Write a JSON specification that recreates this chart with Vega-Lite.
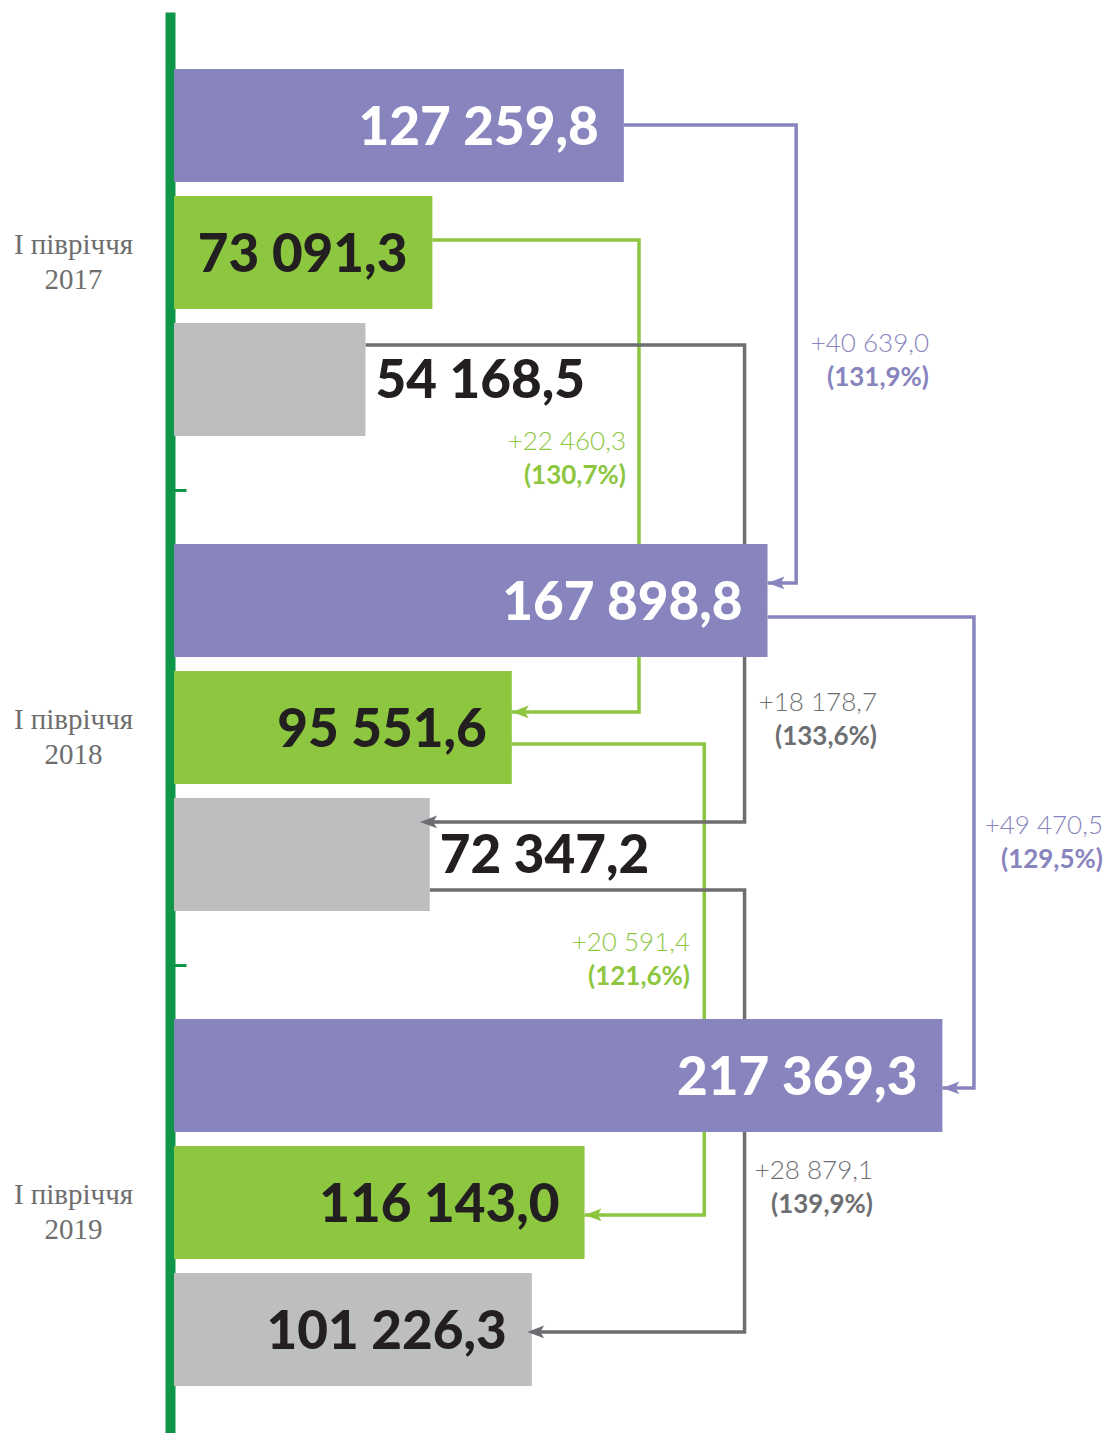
{
  "$schema": "https://vega.github.io/schema/vega-lite/v6.json",
  "width": 935,
  "height": 1421,
  "autosize": {"type": "none"},
  "padding": {"left": 174, "top": 12, "right": 0, "bottom": 0},
  "background": "white",
  "config": {"view": {"stroke": null}},
  "datasets": {
    "bars": [
      {"year": "2017", "series": "total", "value": 127259.8, "label": "127 259,8"},
      {"year": "2017", "series": "part1", "value": 73091.3, "label": "73 091,3"},
      {"year": "2017", "series": "part2", "value": 54168.5, "label": "54 168,5"},
      {"year": "2018", "series": "total", "value": 167898.8, "label": "167 898,8"},
      {"year": "2018", "series": "part1", "value": 95551.6, "label": "95 551,6"},
      {"year": "2018", "series": "part2", "value": 72347.2, "label": "72 347,2"},
      {"year": "2019", "series": "total", "value": 217369.3, "label": "217 369,3"},
      {"year": "2019", "series": "part1", "value": 116143.0, "label": "116 143,0"},
      {"year": "2019", "series": "part2", "value": 101226.3, "label": "101 226,3"}
    ],
    "links": [
      {"link": "t17", "series": "total", "ord": 1, "year": "2017", "v": 127259.8, "off": 56},
      {"link": "t17", "series": "total", "ord": 2, "year": "2017", "v": 176000, "off": 56},
      {"link": "t17", "series": "total", "ord": 3, "year": "2018", "v": 176000, "off": 39},
      {"link": "t17", "series": "total", "ord": 4, "year": "2018", "v": 167898.8, "off": 39},
      {"link": "t18", "series": "total", "ord": 1, "year": "2018", "v": 167898.8, "off": 73},
      {"link": "t18", "series": "total", "ord": 2, "year": "2018", "v": 226300, "off": 73},
      {"link": "t18", "series": "total", "ord": 3, "year": "2019", "v": 226300, "off": 69},
      {"link": "t18", "series": "total", "ord": 4, "year": "2019", "v": 217369.3, "off": 69},
      {"link": "g17", "series": "part1", "ord": 1, "year": "2017", "v": 73091.3, "off": 171},
      {"link": "g17", "series": "part1", "ord": 2, "year": "2017", "v": 131540, "off": 171},
      {"link": "g17", "series": "part1", "ord": 3, "year": "2018", "v": 131540, "off": 168},
      {"link": "g17", "series": "part1", "ord": 4, "year": "2018", "v": 95551.6, "off": 168},
      {"link": "g18", "series": "part1", "ord": 1, "year": "2018", "v": 95551.6, "off": 200},
      {"link": "g18", "series": "part1", "ord": 2, "year": "2018", "v": 150000, "off": 200},
      {"link": "g18", "series": "part1", "ord": 3, "year": "2019", "v": 150000, "off": 196},
      {"link": "g18", "series": "part1", "ord": 4, "year": "2019", "v": 116143.0, "off": 196},
      {"link": "r17", "series": "part2", "ord": 1, "year": "2017", "v": 54168.5, "off": 276},
      {"link": "r17", "series": "part2", "ord": 2, "year": "2017", "v": 161400, "off": 276},
      {"link": "r17", "series": "part2", "ord": 3, "year": "2018", "v": 161400, "off": 278},
      {"link": "r17", "series": "part2", "ord": 4, "year": "2018", "v": 69600, "off": 278},
      {"link": "r18", "series": "part2", "ord": 1, "year": "2018", "v": 72347.2, "off": 346},
      {"link": "r18", "series": "part2", "ord": 2, "year": "2018", "v": 161400, "off": 346},
      {"link": "r18", "series": "part2", "ord": 3, "year": "2019", "v": 161400, "off": 313},
      {"link": "r18", "series": "part2", "ord": 4, "year": "2019", "v": 99900, "off": 313}
    ],
    "changes": [
      {"series": "total", "year": "2017", "v": 213580, "off": 292.5, "delta": "+40 639,0", "pct": "(131,9%)"},
      {"series": "part1", "year": "2017", "v": 127860, "off": 390, "delta": "+22 460,3", "pct": "(130,7%)"},
      {"series": "part2", "year": "2018", "v": 198870, "off": 176, "delta": "+18 178,7", "pct": "(133,6%)"},
      {"series": "total", "year": "2018", "v": 262800, "off": 299, "delta": "+49 470,5", "pct": "(129,5%)"},
      {"series": "part1", "year": "2018", "v": 145970, "off": 416, "delta": "+20 591,4", "pct": "(121,6%)"},
      {"series": "part2", "year": "2019", "v": 197740, "off": 169, "delta": "+28 879,1", "pct": "(139,9%)"}
    ]
  },
  "layer": [
    {
      "data": {"name": "links"},
      "mark": {"type": "line", "strokeWidth": 3.5, "strokeJoin": "miter", "strokeCap": "butt"},
      "encoding": {
        "y": {
          "field": "year", "type": "nominal", "title": null,
          "scale": {"paddingInner": 0.22737, "paddingOuter": 0.10947, "align": 0.548},
          "axis": {
            "orient": "left",
            "offset": 4,
            "domainColor": "#0f9648",
            "domainWidth": 10,
            "domainCap": "butt",
            "bandPosition": -0.147,
            "ticks": true,
            "tickSize": -16,
            "tickWidth": 3,
            "tickColor": {"condition": {"test": "datum.value === '2017'", "value": "transparent"}, "value": "#0f9648"},
            "labelExpr": "['I півріччя', datum.label]",
            "labelAlign": "center",
            "labelBaseline": "middle",
            "labelFont": "Liberation Serif",
            "labelFontSize": 29,
            "labelColor": "#6e6e6e",
            "labelLineHeight": 35,
            "labelPadding": 113,
            "labelOffset": -7,
            "grid": false
          }
        },
        "yOffset": {"field": "off", "type": "quantitative", "scale": {"domain": [0, 500], "range": [0, 500], "zero": false, "nice": false}},
        "x": {"field": "v", "type": "quantitative", "scale": {"domain": [0, 264500], "nice": false, "zero": true}, "axis": null},
        "order": {"field": "ord"},
        "detail": {"field": "link"},
        "stroke": {"field": "series", "type": "nominal", "scale": {"domain": ["total", "part1", "part2"], "range": ["#8884be", "#8dc63f", "#6d6e71"]}, "legend": null}
      }
    },
    {
      "data": {"name": "bars"},
      "mark": {"type": "bar"},
      "encoding": {
        "y": {"field": "year", "type": "nominal"},
        "yOffset": {"field": "series", "type": "nominal", "scale": {"domain": ["total", "part1", "part2"], "paddingInner": 0.11024, "paddingOuter": 0}},
        "x": {"field": "value", "type": "quantitative"},
        "color": {"field": "series", "type": "nominal", "scale": {"domain": ["total", "part1", "part2"], "range": ["#8884be", "#8dc63f", "#bcbec0"]}, "legend": null}
      }
    },
    {
      "data": {"name": "links"},
      "transform": [{"filter": "datum.ord === 4"}],
      "mark": {"type": "point", "shape": "M0,0L2,-0.75L1.55,0L2,0.75Z", "size": 289, "filled": true, "opacity": 1, "strokeWidth": 0},
      "encoding": {
        "y": {"field": "year", "type": "nominal"},
        "yOffset": {"field": "off", "type": "quantitative", "scale": {"domain": [0, 500], "range": [0, 500], "zero": false, "nice": false}},
        "x": {"field": "v", "type": "quantitative"},
        "fill": {"field": "series", "type": "nominal", "scale": {"domain": ["total", "part1", "part2"], "range": ["#8884be", "#8dc63f", "#6d6e71"]}, "legend": null}
      }
    },
    {
      "data": {"name": "bars"},
      "transform": [{"filter": "datum.series !== 'part2' || datum.value >= 90000"}],
      "mark": {"type": "text", "align": "right", "baseline": "middle", "dx": -25, "dy": 4, "font": "Lato", "fontWeight": 900, "fontSize": 53},
      "encoding": {
        "y": {"field": "year", "type": "nominal"},
        "yOffset": {"field": "series", "type": "nominal", "scale": {"type": "point", "domain": ["total", "part1", "part2"], "padding": 0.4449}},
        "x": {"field": "value", "type": "quantitative"},
        "text": {"field": "label"},
        "color": {"condition": {"test": "datum.series === 'total'", "value": "#ffffff"}, "value": "#231f20"}
      }
    },
    {
      "data": {"name": "bars"},
      "transform": [{"filter": "datum.series === 'part2' && datum.value < 90000"}],
      "mark": {"type": "text", "align": "left", "baseline": "middle", "dx": 10, "dy": 3, "font": "Lato", "fontWeight": 900, "fontSize": 53, "color": "#231f20"},
      "encoding": {
        "y": {"field": "year", "type": "nominal"},
        "yOffset": {"field": "series", "type": "nominal", "scale": {"type": "point", "domain": ["total", "part1", "part2"], "padding": 0.4449}},
        "x": {"field": "value", "type": "quantitative"},
        "text": {"field": "label"}
      }
    },
    {
      "data": {"name": "changes"},
      "mark": {"type": "text", "align": "right", "baseline": "middle", "dy": -17, "font": "Lato", "fontWeight": 300, "fontSize": 26},
      "encoding": {
        "y": {"field": "year", "type": "nominal"},
        "yOffset": {"field": "off", "type": "quantitative", "scale": {"domain": [0, 500], "range": [0, 500], "zero": false, "nice": false}},
        "x": {"field": "v", "type": "quantitative"},
        "text": {"field": "delta"},
        "fill": {"field": "series", "type": "nominal", "scale": {"domain": ["total", "part1", "part2"], "range": ["#8884be", "#8dc63f", "#6d6e71"]}, "legend": null}
      }
    },
    {
      "data": {"name": "changes"},
      "mark": {"type": "text", "align": "right", "baseline": "middle", "dy": 17, "font": "Lato", "fontWeight": 700, "fontSize": 26},
      "encoding": {
        "y": {"field": "year", "type": "nominal"},
        "yOffset": {"field": "off", "type": "quantitative", "scale": {"domain": [0, 500], "range": [0, 500], "zero": false, "nice": false}},
        "x": {"field": "v", "type": "quantitative"},
        "text": {"field": "pct"},
        "fill": {"field": "series", "type": "nominal", "scale": {"domain": ["total", "part1", "part2"], "range": ["#8884be", "#8dc63f", "#6d6e71"]}, "legend": null}
      }
    }
  ],
  "resolve": {"scale": {"yOffset": "independent"}}
}
